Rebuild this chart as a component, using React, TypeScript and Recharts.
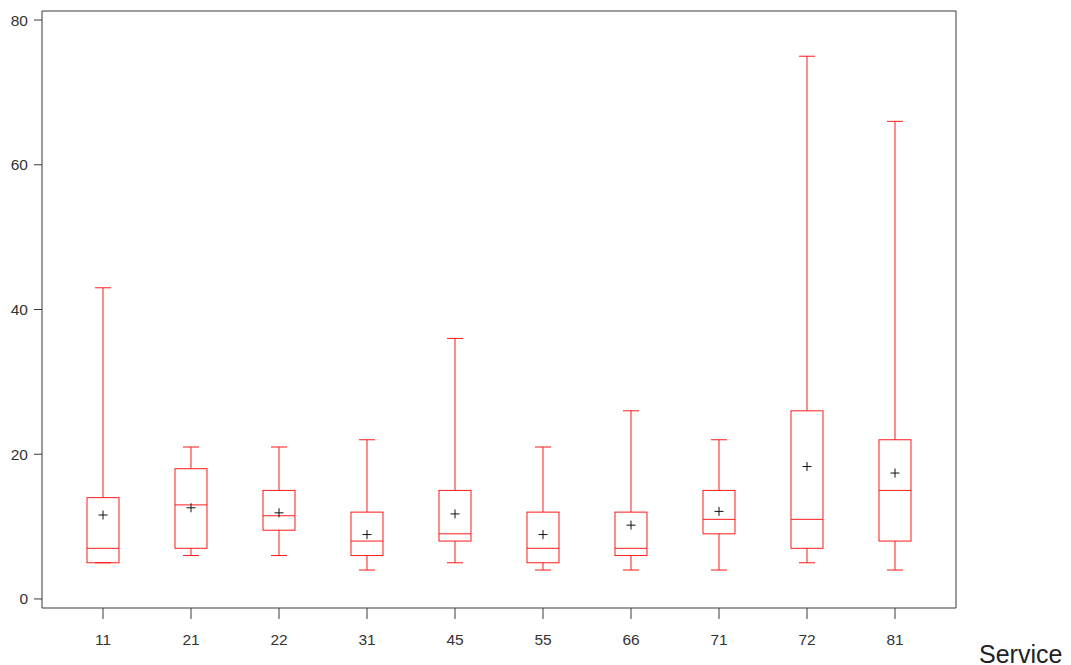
import { Bar, ComposedChart, Scatter, XAxis, YAxis } from "recharts";

const services = ["11", "21", "22", "31", "45", "55", "66", "71", "72", "81"];
const whiskerLow = [5, 6, 6, 4, 5, 4, 4, 4, 5, 4];
const q1 = [5, 7, 9.5, 6, 8, 5, 6, 9, 7, 8];
const median = [7, 13, 11.5, 8, 9, 7, 7, 11, 11, 15];
const q3 = [14, 18, 15, 12, 15, 12, 12, 15, 26, 22];
const whiskerHigh = [43, 21, 21, 22, 36, 21, 26, 22, 75, 66];
const means = [11.6, 12.6, 11.9, 8.9, 11.75, 8.9, 10.2, 12.1, 18.3, 17.4];
const yTicks = [0, 20, 40, 60, 80];

const BOX = "#ff1a1a";
const FRAME = "#3a3a3a";
const FONT = "'Liberation Sans', Arial, sans-serif";

const data = services.map((service, i) => ({
  service,
  low: whiskerLow[i],
  q1: q1[i],
  median: median[i],
  q3: q3[i],
  high: whiskerHigh[i],
  mean: means[i],
  range: [whiskerLow[i], whiskerHigh[i]],
}));

// box + whiskers drawn inside the [low, high] range bar
function BoxShape(props: any) {
  const { x, y, width, height, payload } = props;
  const top = Math.min(y, y + height);
  const bottom = Math.max(y, y + height);
  const span = payload.high - payload.low || 1;
  const py = (v: number) => top + ((bottom - top) * (payload.high - v)) / span;
  const cx = x + width / 2;
  const cap = width / 4;
  const yQ1 = py(payload.q1);
  const yQ3 = py(payload.q3);
  const yMed = py(payload.median);
  return (
    <g stroke={BOX} strokeWidth={1} fill="none">
      <line x1={cx} x2={cx} y1={top} y2={yQ3} />
      <line x1={cx} x2={cx} y1={yQ1} y2={bottom} />
      <line x1={cx - cap} x2={cx + cap} y1={top} y2={top} />
      <line x1={cx - cap} x2={cx + cap} y1={bottom} y2={bottom} />
      <rect x={x} y={yQ3} width={width} height={yQ1 - yQ3} />
      <line x1={x} x2={x + width} y1={yMed} y2={yMed} />
    </g>
  );
}

function MeanMark(props: any) {
  const { cx, cy } = props;
  return (
    <g stroke="#111" strokeWidth={1}>
      <line x1={cx - 4.5} x2={cx + 4.5} y1={cy} y2={cy} />
      <line x1={cx} x2={cx} y1={cy - 4.5} y2={cy + 4.5} />
    </g>
  );
}

const tickStyle = { fill: "#333", fontSize: 15.5, fontFamily: FONT };

export default function App() {
  return (
    <div style={{ width: 1055, height: 657 }}>
      <style>{"body{margin:8px 8px 0 8px}"}</style>
      <ComposedChart
        width={1055}
        height={657}
        data={data}
        margin={{ top: 2, right: 106, bottom: 0, left: 0 }}
      >
        <XAxis
          dataKey="service"
          type="category"
          padding={{ left: 17, right: 17 }}
          height={57}
          tickSize={11}
          tickMargin={15}
          tick={tickStyle}
          axisLine={{ stroke: FRAME }}
          tickLine={{ stroke: FRAME }}
          label={{
            content: (p: any) => (
              <text
                x={p.viewBox.x + p.viewBox.width + 23}
                y={655}
                fill="#222"
                fontSize={25}
                fontFamily={FONT}
              >
                Service
              </text>
            ),
          }}
        />
        <XAxis
          xAxisId="top"
          dataKey="service"
          orientation="top"
          height={1}
          padding={{ left: 17, right: 17 }}
          tick={false}
          tickLine={false}
          axisLine={{ stroke: FRAME }}
        />
        <YAxis
          type="number"
          domain={[-1.25, 81.25]}
          ticks={yTicks}
          width={34}
          tickSize={8}
          tickMargin={6}
          tick={tickStyle}
          axisLine={{ stroke: FRAME }}
          tickLine={{ stroke: FRAME }}
          allowDataOverflow
        />
        <YAxis
          yAxisId="right"
          orientation="right"
          type="number"
          domain={[-1.25, 81.25]}
          width={1}
          tick={false}
          tickLine={false}
          axisLine={{ stroke: FRAME }}
          allowDataOverflow
        />
        <Bar
          dataKey="range"
          barSize={32}
          shape={<BoxShape />}
          isAnimationActive={false}
        />
        <Scatter
          dataKey="mean"
          shape={<MeanMark />}
          isAnimationActive={false}
        />
        {/* invisible series so the top/right frame axes get drawn */}
        <Scatter
          xAxisId="top"
          yAxisId="right"
          dataKey="mean"
          shape={() => <g />}
          isAnimationActive={false}
        />
      </ComposedChart>
    </div>
  );
}
